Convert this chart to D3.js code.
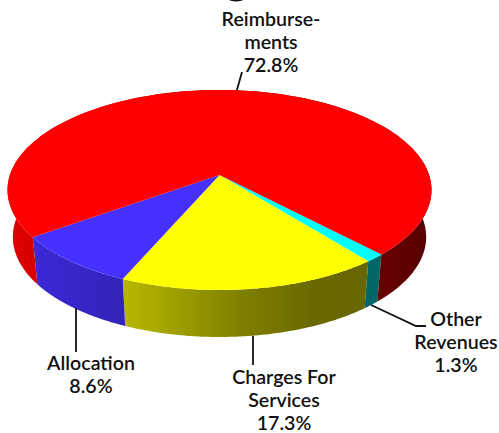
<!DOCTYPE html>
<meta charset="utf-8">
<style>
  html, body { margin: 0; padding: 0; background: #fff; }
  text { font-family: Lato, "Open Sans", sans-serif; font-weight: 600; font-size: 19.6px; fill: #111; }
</style>
<script src="https://d3js.org/d3.v7.min.js"></script>
<div id="my_dataviz"></div>
<script>

// values, in clockwise order from the right-front
var categories = ["Other Revenues", "Charges For Services", "Allocation", "Reimbursements"];
var shares = [1.3, 17.3, 8.6, 72.8];
var shareLabels = ["1.3%", "17.3%", "8.6%", "72.8%"];
var labelLines = [["Other", "Revenues"], ["Charges For", "Services"], ["Allocation"], ["Reimburse-", "ments"]];

var topColors = ["#00ffff", "#ffff00", "#4630ff", "#ff0000"];
// brightness of the side wall, going left to right
var wallStops = [[0, 0.88], [0.27, 0.72], [0.55, 0.5], [0.72, 0.41], [0.9, 0.4], [1, 0.33]];

var width = 499, height = 433;

var svg = d3.select("#my_dataviz").append("svg")
    .attr("width", width)
    .attr("height", height)
    .style("display", "block");

// the pie is a flat disc seen in perspective, so the apex sits above the middle of the ellipse
var cx = 219.5, apexY = 175, rimX = 209.6, rimY = 97.75, persp = 0.15;
var wallScaleX = 0.975, wallScaleY = 1, wallShift = 47;

function project(a, bottom) {
  var u = Math.sin(a), v = -Math.cos(a), w = 1 - persp * v;
  var x = rimX * u / w, y = rimY * v / w;
  if (bottom) return [cx + x * wallScaleX, apexY + y * wallScaleY + wallShift];
  return [cx + x, apexY + y];
}

var startAngle = 136.5 * Math.PI / 180;
var pie = d3.pie().sort(null)
    .startAngle(startAngle)
    .endAngle(startAngle + 2 * Math.PI);
var slices = pie(shares);

function sample(d, bottom) {
  return d3.range(0, 1.0001, 1 / 120).map(function(t) {
    return project(d.startAngle + t * (d.endAngle - d.startAngle), bottom);
  });
}

var line = d3.line();

// side wall gradients
var defs = svg.append("defs");
topColors.forEach(function(c, i) {
  var grad = defs.append("linearGradient")
      .attr("id", "wall" + i)
      .attr("gradientUnits", "userSpaceOnUse")
      .attr("x1", 8).attr("x2", 431).attr("y1", 0).attr("y2", 0);
  wallStops.forEach(function(s) {
    var col = d3.rgb(c);
    grad.append("stop")
        .attr("offset", s[0])
        .attr("stop-color", d3.rgb(col.r * s[1], col.g * s[1], col.b * s[1]));
  });
});

// walls first, the top face covers whatever wraps round the back
svg.selectAll(".wall")
    .data(slices)
    .enter().append("path")
    .attr("class", "wall")
    .attr("fill", function(d, i) { return "url(#wall" + i + ")"; })
    .attr("d", function(d) {
      return line(sample(d, false).concat(sample(d, true).reverse())) + "Z";
    });

svg.selectAll(".top")
    .data(slices)
    .enter().append("path")
    .attr("class", "top")
    .attr("fill", function(d, i) { return topColors[i]; })
    .attr("d", function(d) {
      return line([[cx, apexY]].concat(sample(d, false))) + "Z";
    });

// leader lines start on the rim at each slice's middle angle
function mid(d) { return (d.startAngle + d.endAngle) / 2; }
var leaderEnds = [[[416, 326], [426, 326]], [[253, 365]], [[76, 352]], [[242, 72]]];
svg.selectAll(".leader")
    .data(slices)
    .enter().append("path")
    .attr("class", "leader")
    .attr("fill", "none")
    .attr("stroke", "#111")
    .attr("stroke-width", 1.8)
    .attr("d", function(d, i) {
      var start = project(mid(d), i !== 3);
      if (i === 1) start[0] = leaderEnds[i][0][0];
      if (i === 2) start[0] = leaderEnds[i][0][0];
      return line([start].concat(leaderEnds[i]));
    });

// label blocks: centre x and first baseline
var labelPos = [[456, 326], [284, 383.5], [91, 370], [271, 26]];
var lineGap = 23;
categories.forEach(function(name, i) {
  var rows = labelLines[i].concat(shareLabels[i]);
  var t = svg.append("text")
      .attr("aria-label", name)
      .attr("text-anchor", "middle");
  rows.forEach(function(r, j) {
    t.append("tspan")
        .attr("x", labelPos[i][0])
        .attr("y", labelPos[i][1] + j * lineGap)
        .text(r);
  });
});

// the only part of the title left inside the crop is the tail of a "g"
svg.append("text")
    .attr("x", 237)
    .attr("y", -6)
    .attr("text-anchor", "middle")
    .style("font-size", "44px")
    .style("font-weight", 900)
    .text("g");

</script>
